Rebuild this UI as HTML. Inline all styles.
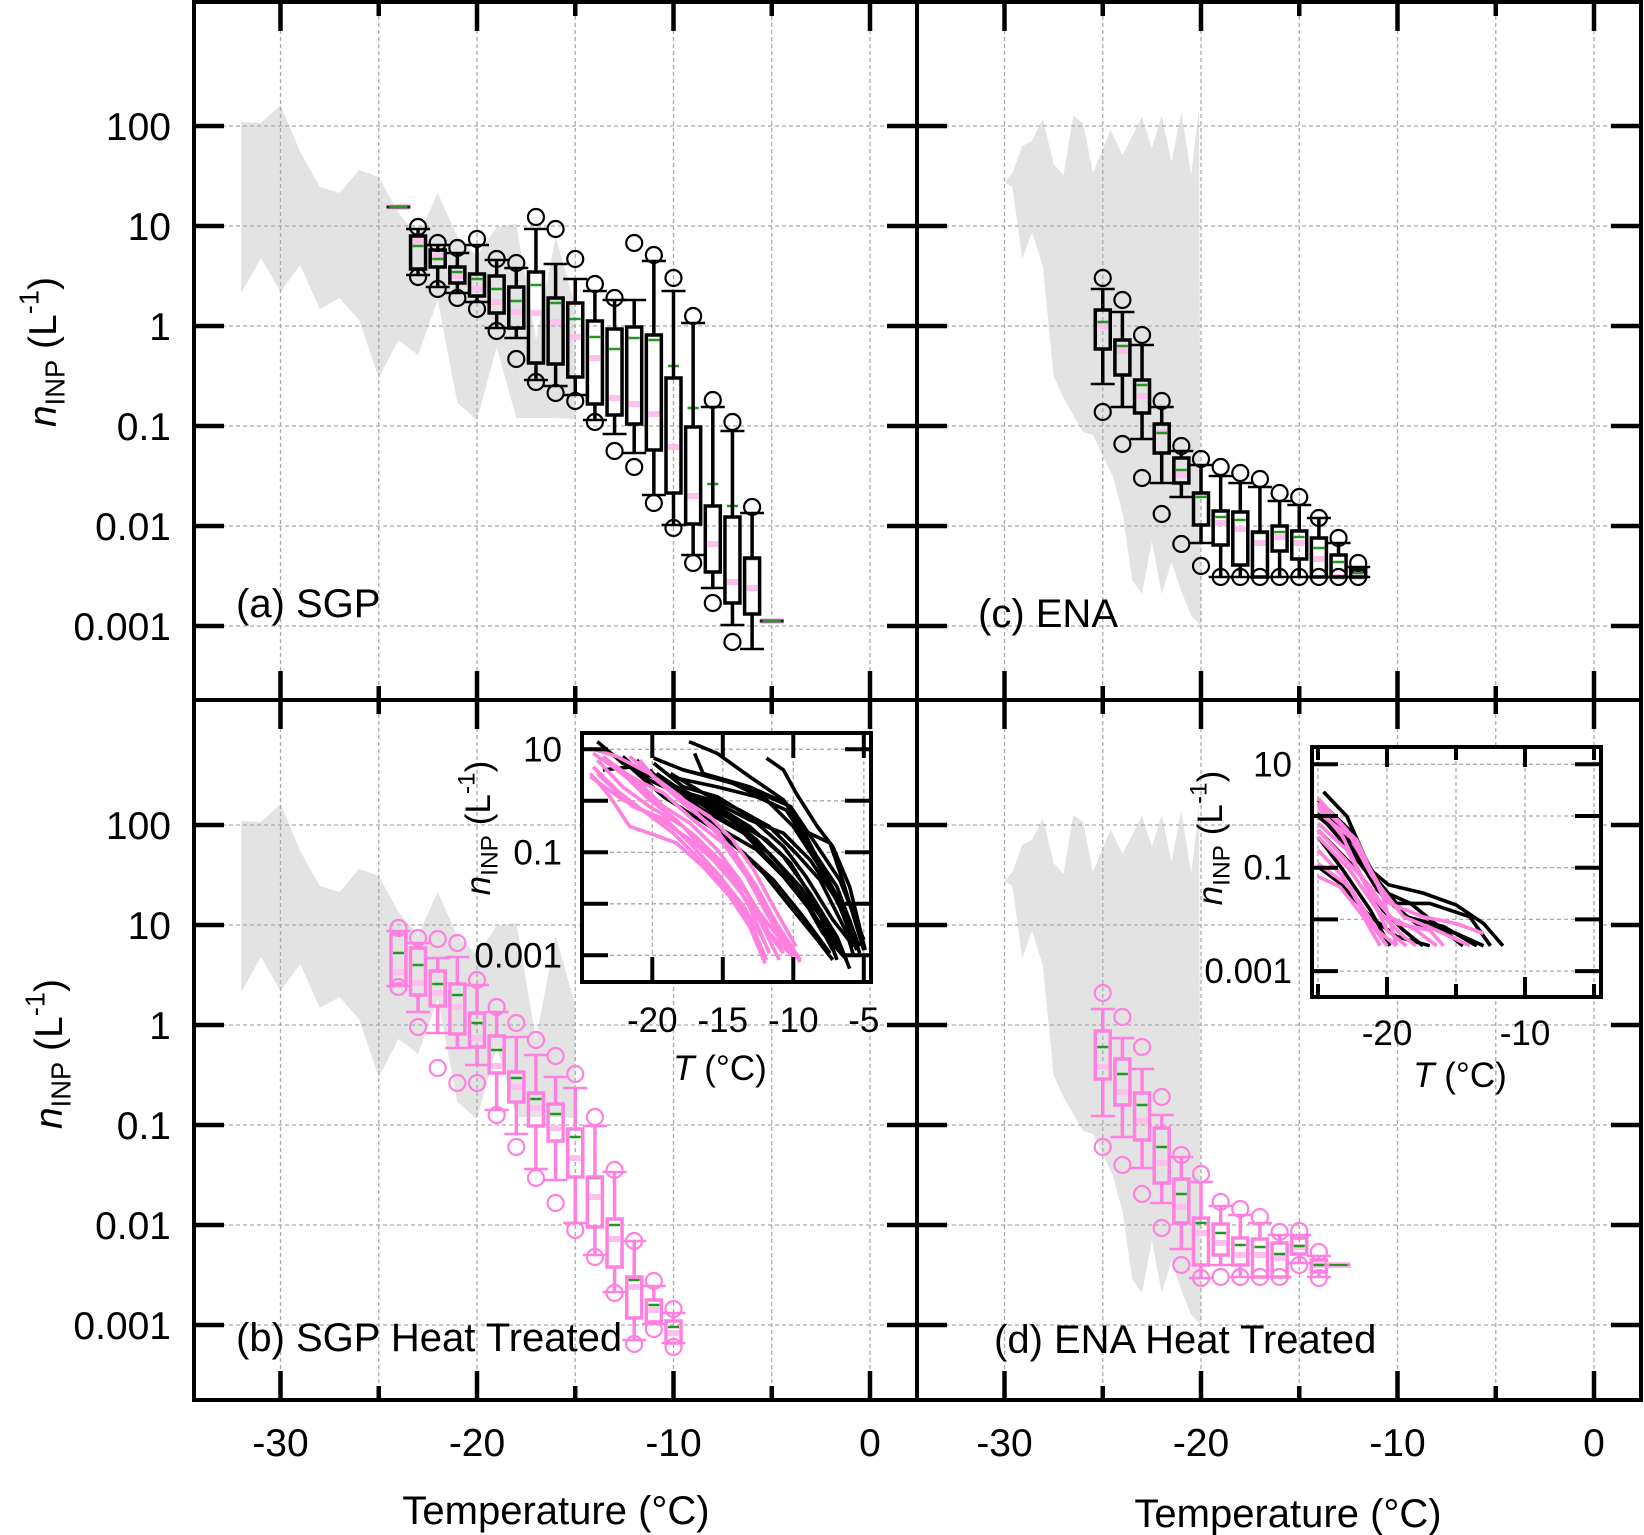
<!DOCTYPE html>
<html><head><meta charset="utf-8"><style>
html,body{margin:0;padding:0;background:#fff}
svg{display:block;font-family:"Liberation Sans",Arial,sans-serif}
</style></head><body>
<svg id="fig" width="1644" height="1535" viewBox="0 0 1644 1535" xmlns="http://www.w3.org/2000/svg">
<g id="layer-grey"></g>
<g id="layer-grid"></g>
<g id="layer-boxes"></g>
<g id="layer-insets"></g>
<g id="layer-frame"></g>
<g id="layer-text"></g>
</svg>
<script>
// ---------------- data (log10 of n_INP, L^-1) ----------------
const greySgpT  = [-32,-31,-30,-29,-28,-27,-26,-25,-24,-23,-22,-21,-20,-19,-18,-17,-16,-15];
const greySgpUp = [2.04,2.03,2.21,1.74,1.39,1.33,1.56,1.49,1.13,0.9,1.33,0.89,0.7,0.99,1.02,-0.14,0.89,0.2];
const greySgpLo = [0.33,0.68,0.34,0.61,0.17,0.28,0.06,-0.52,-0.14,-0.29,0.26,-0.77,-0.94,-0.21,-0.92,-0.92,-0.92,-0.93];
const greyEnaUpT = [-30,-29.6,-29.1,-28.6,-28.05,-27.5,-27,-26.5,-26,-25.5,-24.6,-24,-23,-22.5,-22,-21.5,-21,-20.5,-20.1,-20];
const greyEnaUp  = [1.44,1.53,1.80,1.85,2.07,1.62,1.51,2.10,2.03,1.53,1.96,1.71,2.09,1.78,2.10,1.64,2.14,1.51,2.17,-3.0];
const greyEnaLoT = [-30,-29.6,-29.1,-28.6,-28.05,-27.5,-27,-26,-25.5,-24.5,-24,-23.5,-23,-22.5,-22,-21.5,-21,-20.5,-20];
const greyEnaLo  = [1.44,1.39,0.67,0.94,0.60,-0.50,-0.72,-1.06,-1.09,-1.50,-1.86,-2.54,-2.68,-2.15,-2.68,-2.36,-2.65,-2.90,-3.0];

// panel a: SGP
const aT    = [-23,-22,-21,-20,-19,-18,-17,-16,-15,-14,-13,-12,-11,-10,-9,-8,-7,-6];
const aWHi  = [0.97,0.81,0.73,0.81,0.66,0.58,0.97,0.62,0.47,0.35,0.26,0.26,0.65,0.35,0.03,-0.81,-1.05,-1.87];
const aBHi  = [0.90,0.76,0.59,0.52,0.50,0.39,0.54,0.28,0.23,0.05,-0.03,-0.01,-0.09,-0.52,-1.01,-1.80,-1.91,-2.32];
const aMed  = [0.80,0.67,0.54,0.47,0.37,0.25,0.41,0.23,0.07,-0.11,-0.23,-0.12,-0.14,-0.40,-0.82,-1.58,-1.80,-2.33];
const aMean = [0.85,0.70,0.50,0.37,0.24,0.14,0.13,0.04,-0.11,-0.32,-0.72,-0.78,-0.88,-1.21,-1.70,-2.18,-2.56,-2.62];
const aBLo  = [0.57,0.59,0.43,0.30,0.13,-0.02,-0.37,-0.38,-0.51,-0.78,-0.89,-0.98,-1.24,-1.67,-1.98,-2.46,-2.77,-2.88];
const aWLo  = [0.51,0.39,0.33,0.24,-0.02,-0.12,-0.54,-0.60,-0.69,-0.94,-1.08,-1.27,-1.69,-1.99,-2.29,-2.62,-2.99,-3.23];
const aOHi  = [0.99,0.83,0.78,0.87,0.67,0.63,1.09,0.97,0.67,0.42,0.28,0.83,0.71,0.48,0.10,-0.74,-0.96,-1.81];
const aOLo  = [0.49,0.37,0.28,0.17,-0.05,-0.33,-0.56,-0.67,-0.75,-0.96,-1.25,-1.41,-1.77,-2.02,-2.37,-2.77,-3.16,null];
const aSingleT = [-24,-5];
const aSingleV = [1.19,-2.95];

// panel c: ENA
const cT    = [-25,-24,-23,-22,-21,-20,-19,-18,-17,-16,-15,-14,-13,-12];
const cWHi  = [0.37,0.14,-0.19,-0.81,-1.25,-1.39,-1.50,-1.57,-1.61,-1.75,-1.79,-1.92,-2.17,-2.41];
const cBHi  = [0.16,-0.14,-0.54,-0.98,-1.32,-1.67,-1.85,-1.86,-2.06,-2.00,-2.05,-2.12,-2.29,-2.42];
const cMed  = [0.04,-0.20,-0.59,-1.07,-1.44,-1.71,-1.91,-1.94,-2.07,-2.06,-2.11,-2.22,-2.36,-2.47];
const cMean = [0.00,-0.25,-0.70,-1.06,-1.49,-1.68,-1.97,-2.03,-2.17,-2.11,-2.17,-2.33,-2.51,-2.51];
const cBLo  = [-0.23,-0.49,-0.87,-1.27,-1.57,-1.99,-2.19,-2.39,-2.51,-2.25,-2.33,-2.51,-2.51,-2.51];
const cWLo  = [-0.58,-0.81,-1.13,-1.57,-1.71,-2.17,-2.51,-2.51,-2.51,-2.51,-2.51,-2.51,-2.51,-2.51];
const cOHi  = [0.48,0.26,-0.09,-0.75,-1.20,-1.33,-1.41,-1.47,-1.53,-1.67,-1.71,-1.92,-2.12,-2.37];
const cOLo  = [-0.86,-1.18,-1.52,-1.88,-2.18,-2.40,-2.51,-2.51,-2.51,-2.51,-2.51,-2.51,-2.51,-2.51];

// panel b: SGP heat treated
const bT    = [-24,-23,-22,-21,-20,-19,-18,-17,-16,-15,-14,-13,-12,-11,-10];
const bWHi  = [0.94,0.82,0.67,0.68,0.40,0.13,-0.12,-0.30,-0.52,-0.63,-1.01,-1.47,-2.16,-2.61,-2.88];
const bBHi  = [0.91,0.77,0.54,0.41,0.12,-0.11,-0.47,-0.68,-0.79,-1.04,-1.52,-1.94,-2.52,-2.75,-2.96];
const bMed  = [0.72,0.60,0.41,0.30,0.02,-0.25,-0.53,-0.74,-0.89,-1.12,-1.53,-2.00,-2.55,-2.80,-3.02];
const bMean = [0.53,0.42,0.32,0.18,-0.13,-0.41,-0.62,-0.83,-1.03,-1.33,-1.72,-2.14,-2.62,-2.85,-3.08];
const bBLo  = [0.41,0.30,0.19,-0.09,-0.22,-0.48,-0.77,-1.01,-1.16,-1.52,-2.02,-2.42,-2.93,-2.97,-3.18];
const bWLo  = [0.39,0.13,-0.08,-0.23,-0.40,-0.85,-1.09,-1.44,-1.55,-1.98,-2.30,-2.67,-3.15,-2.99,-3.18];
const bOHi  = [0.97,0.87,0.86,0.82,0.45,0.18,0.02,-0.15,-0.31,-0.49,-0.92,-1.45,-2.16,-2.56,-2.84];
const bOLo  = [0.38,-0.02,-0.43,-0.58,-0.58,-0.90,-1.22,-1.53,-1.78,-2.05,-2.32,-2.68,-3.19,-3.04,-3.22];

// panel d: ENA heat treated
const dT    = [-25,-24,-23,-22,-21,-20,-19,-18,-17,-16,-15,-14];
const dWHi  = [0.16,-0.13,-0.44,-0.90,-1.32,-1.57,-1.81,-1.90,-1.98,-2.10,-2.10,-2.31];
const dBHi  = [-0.06,-0.34,-0.68,-1.03,-1.54,-1.93,-1.99,-2.13,-2.14,-2.18,-2.13,-2.35];
const dMed  = [-0.22,-0.49,-0.80,-1.22,-1.69,-1.98,-2.08,-2.20,-2.22,-2.29,-2.21,-2.40];
const dMean = [-0.42,-0.67,-0.96,-1.38,-1.82,-2.08,-2.18,-2.30,-2.30,-2.33,-2.22,-2.40];
const dBLo  = [-0.54,-0.80,-1.15,-1.58,-1.98,-2.40,-2.30,-2.40,-2.52,-2.52,-2.29,-2.47];
const dWLo  = [-0.91,-1.12,-1.43,-1.78,-2.24,-2.53,-2.40,-2.52,-2.52,-2.52,-2.38,-2.52];
const dOHi  = [0.32,0.08,-0.22,-0.72,-1.30,-1.49,-1.77,-1.84,-1.92,-2.07,-2.06,-2.27];
const dOLo  = [-1.22,-1.40,-1.69,-2.03,-2.40,-2.53,-2.52,-2.52,-2.52,-2.52,-2.40,-2.53];
const dSingleT = [-13];
const dSingleV = [-2.40];

// inset (b): individual spectra, SGP untreated (black) and heat treated (pink)
const insBBlackT = [
 [-17.4,-15.4,-13.1,-10.7,-9.3,-7.4,-6.5,-5.0],[-11.9,-10.7,-9.8,-8.3,-7.2,-6.0,-4.9],
 [-17.0,-16.4,-13.1,-10.5,-9.3,-7.9,-6.0,-5.3],[-19.9,-17.8,-14.3,-11.9,-10.0,-8.3,-6.7,-5.5],
 [-23.9,-22.1,-19.0,-15.4,-13.1,-10.7,-8.8,-6.9,-6.0],[-23.5,-21.4,-17.8,-15.0,-12.6,-10.7,-8.8,-7.2],
 [-22.1,-20.2,-16.6,-13.8,-11.7,-9.5,-7.6,-6.5],[-19.9,-17.8,-15.4,-13.1,-10.7,-9.1,-7.2,-5.7],
 [-19.7,-17.3,-14.3,-11.9,-10.2,-8.3,-6.9],[-19.5,-16.4,-13.5,-11.7,-9.5,-7.9,-6.2],
 [-19.0,-15.9,-13.1,-10.7,-8.8,-6.9,-5.3],[-18.3,-15.4,-12.6,-10.5,-8.8,-6.9,-5.5],
 [-17.8,-14.9,-12.4,-10.2,-8.6,-6.7,-5.0],[-21.1,-19.0,-16.4,-14.0,-12.1,-10.2,-8.3,-7.2],
 [-21.6,-19.2,-15.9,-13.5,-11.4,-9.3,-7.4],[-20.2,-17.8,-15.0,-12.6,-10.7,-8.8,-6.7],
 [-18.7,-16.4,-13.8,-11.7,-9.8,-8.1,-6.2,-5.7]];
const insBBlackV = [
 [1.15,0.92,0.47,0.02,-0.57,-0.82,-1.54,-2.90],[0.83,0.60,0.15,-0.50,-0.89,-1.67,-2.90],
 [0.92,0.53,0.27,-0.05,-0.57,-1.34,-2.31,-2.96],[0.83,0.60,0.34,0.02,-0.50,-1.21,-2.06,-2.90],
 [1.15,0.73,0.34,-0.11,-0.50,-1.08,-1.80,-2.64,-3.26],[0.60,0.66,0.21,-0.24,-0.76,-1.34,-2.06,-2.90],
 [0.86,0.40,-0.05,-0.57,-1.02,-1.67,-2.44,-2.96],[0.73,0.27,0.08,-0.31,-0.89,-1.47,-2.31,-2.83],
 [0.53,0.08,-0.37,-0.76,-1.21,-2.06,-3.09],[0.40,-0.18,-0.63,-1.15,-1.80,-2.57,-3.09],
 [0.27,0.02,-0.37,-0.63,-1.15,-1.93,-2.83],[0.44,0.27,0.08,-0.18,-0.89,-1.67,-2.70],
 [0.60,0.40,0.15,-0.11,-0.76,-1.54,-2.70],[0.79,0.27,-0.37,-0.89,-1.41,-2.06,-2.70,-3.09],
 [0.66,0.08,-0.50,-1.02,-1.54,-2.25,-2.96],[0.60,-0.05,-0.57,-0.95,-1.47,-2.12,-2.90],
 [0.53,0.15,-0.18,-0.50,-1.02,-1.54,-2.57,-3.03]];
const insBPinkT = [
 [-24.4,-22.5,-20.2,-17.8,-15.4,-14.0,-12.6,-11.2,-9.5],[-24.4,-23.0,-21.6,-20.2,-18.3,-16.4,-14.5,-13.1,-12.0],
 [-24.4,-22.1,-19.7,-17.3,-15.4,-13.5,-12.1,-10.7],[-23.5,-21.6,-19.2,-17.1,-15.0,-13.3,-11.9,-10.2],
 [-20.9,-19.7,-17.8,-15.9,-14.3,-12.8,-11.4,-9.8],[-24.2,-22.1,-20.2,-18.3,-16.4,-14.5,-13.1,-11.7],
 [-23.9,-22.1,-20.2,-17.8,-15.9,-14.0,-12.4,-11.0],[-23.0,-21.1,-19.2,-17.3,-15.4,-13.8,-12.4,-10.5],
 [-22.5,-20.6,-18.7,-16.9,-15.0,-13.3,-11.7,-10.0],[-24.2,-22.3,-20.4,-18.5,-16.6,-14.7,-13.1,-11.9],
 [-21.6,-19.9,-18.0,-15.9,-14.3,-12.6,-11.2,-9.5],[-23.9,-21.4,-19.0,-17.1,-15.2,-13.5,-12.1]];
const insBPinkV = [
 [1.02,0.86,0.53,-0.05,-0.57,-1.15,-1.80,-2.44,-3.13],[0.53,0.08,-0.50,-0.63,-0.82,-1.28,-1.86,-2.44,-3.16],
 [0.47,0.02,-0.31,-0.76,-1.21,-1.86,-2.44,-2.96],[0.86,0.47,0.15,-0.37,-0.82,-1.47,-2.18,-2.96],
 [0.79,0.40,0.02,-0.31,-0.76,-1.34,-2.06,-2.83],[0.92,0.53,0.02,-0.37,-0.89,-1.41,-2.06,-2.96],
 [0.79,0.27,-0.11,-0.50,-1.08,-1.67,-2.31,-3.09],[0.73,0.40,-0.11,-0.44,-0.95,-1.54,-2.18,-2.83],
 [0.60,0.21,-0.31,-0.70,-1.21,-1.80,-2.57,-3.03],[0.66,0.15,-0.24,-0.63,-1.15,-1.73,-2.31,-3.09],
 [0.86,0.47,0.08,-0.50,-0.95,-1.67,-2.38,-3.09],[0.53,-0.11,-0.37,-0.89,-1.47,-2.06,-2.70]];

// inset (d): ENA spectra
const insDBlackT = [
 [-24.6,-22.9,-21.2,-19.9,-17.4,-15.0,-13.0,-11.6],[-25,-22.7,-20.7,-19.3,-16.9,-14.0,-12.5],
 [-25,-22.9,-20.7,-18.6,-15.9,-13.5],[-25,-23.4,-21.2,-19.3,-16.9],[-25,-22.2,-20.3,-18.8,-17.4],
 [-24.9,-22.4,-20.3,-17.9,-15.0,-13.0],[-25,-23.2,-21.2,-19.8],[-25,-22.7,-20.5,-18.3,-15.9,-14.5]];
const insDBlackV = [
 [0.47,-0.01,-1.04,-1.33,-1.49,-1.72,-2.08,-2.51],[0.31,-0.27,-1.24,-1.69,-1.69,-1.95,-2.51],
 [-0.01,-0.46,-1.43,-1.95,-2.14,-2.51],[-0.98,-1.30,-1.95,-2.33,-2.51],[-0.27,-1.04,-1.82,-2.21,-2.51],
 [0.18,-0.53,-1.56,-2.08,-2.27,-2.51],[-0.40,-1.04,-1.82,-2.51],[0.05,-0.66,-1.43,-1.69,-2.21,-2.51]];
const insDPinkT = [
 [-25,-22.9,-21.2,-19.8,-17.4,-15.0,-13.0],[-25,-23.2,-21.5,-20.0,-18.6],[-25,-23.4,-21.7,-20.5],
 [-25,-22.9,-21.0,-19.3,-16.9,-15.9],[-25,-22.7,-20.7,-18.8,-17.9],[-24.9,-22.4,-20.5,-18.8,-16.4,-14.0],
 [-25,-23.2,-21.5,-20.0],[-25,-23.2,-21.2,-19.8,-17.9,-16.4],[-25,-22.2,-20.3,-19.3],[-25,-22.7,-20.7,-19.3]];
const insDPinkV = [
 [0.34,-0.27,-1.11,-1.69,-1.95,-2.08,-2.27],[0.18,-0.40,-1.37,-2.21,-2.51],[-1.17,-1.37,-1.95,-2.51],
 [-0.14,-0.66,-1.56,-2.08,-2.21,-2.51],[-0.40,-1.04,-1.82,-2.33,-2.51],[0.05,-0.46,-1.37,-1.95,-2.21,-2.51],
 [-0.66,-1.17,-1.95,-2.51],[-0.27,-0.79,-1.37,-1.95,-2.21,-2.51],[0.24,-0.46,-1.56,-2.51],[-0.92,-1.37,-2.21,-2.51]];

const mainXTicks = [-30,-25,-20,-15,-10,-5,0];
const mainXLabels = ["-30","-20","-10","0"];
const mainXLabelVals = [-30,-20,-10,0];
const mainYVals = [2,1,0,-1,-2,-3];
const mainYLabels = ["100","10","1","0.1","0.01","0.001"];
const insBXVals = [-20,-15,-10,-5];
const insBXLabels = ["-20","-15","-10","-5"];
const insDXVals = [-25,-20,-15,-10,-5];
const insDXLabelVals = [-20,-10];
const insDXLabels = ["-20","-10"];
const insYVals = [1,0,-1,-2,-3];
const insYLabelVals = [1,-1,-3];
const insYLabels = ["10","0.1","0.001"];

// ---------------- axes ----------------
const NS = "http://www.w3.org/2000/svg";
const xL = T => 870 + 19.65*T;
const xR = T => 1594 + 19.65*T;
const yTop = v => 326 - 100*v;
const yBot = v => 1025 - 100*v;
const insBX = T => 793.3 + 14.1*(T+10);
const insBY = v => 800.8 - 51.5*v;
const insDX = T => 1525 + 13.8*(T+10);
const insDY = v => 816 - 51.7*v;

function mk(tag, attrs, parent){
  const e = document.createElementNS(NS, tag);
  for (const k in attrs) e.setAttribute(k, attrs[k]);
  parent.appendChild(e);
  return e;
}
const Lg = document.getElementById('layer-grey');
const Lgr = document.getElementById('layer-grid');
const Lb = document.getElementById('layer-boxes');
const Li = document.getElementById('layer-insets');
const Lf = document.getElementById('layer-frame');
const Lt = document.getElementById('layer-text');

const panels = [
  {name:'a', fx:xL, fy:yTop, x0:194, x1:917, y0:2, y1:700},
  {name:'c', fx:xR, fy:yTop, x0:917, x1:1641, y0:2, y1:700},
  {name:'b', fx:xL, fy:yBot, x0:194, x1:917, y0:700, y1:1400},
  {name:'d', fx:xR, fy:yBot, x0:917, x1:1641, y0:700, y1:1400}
];

function greyPoly(fx, fy, tu, vu, tl, vl, nm){
  let pts = [];
  for (let i=0;i<tu.length;i++) pts.push(fx(tu[i]).toFixed(1)+','+fy(vu[i]).toFixed(1));
  for (let i=tl.length-1;i>=0;i--) pts.push(fx(tl[i]).toFixed(1)+','+fy(vl[i]).toFixed(1));
  const p = mk('polygon', {points:pts.join(' '), fill:'#e3e3e3', stroke:'none'}, Lg);
  
  
}
greyPoly(xL, yTop, greySgpT, greySgpUp, greySgpT, greySgpLo, 'sgp-literature-range-a');
greyPoly(xL, yBot, greySgpT, greySgpUp, greySgpT, greySgpLo, 'sgp-literature-range-b');
greyPoly(xR, yTop, greyEnaUpT, greyEnaUp, greyEnaLoT, greyEnaLo, 'ena-literature-range-c');
greyPoly(xR, yBot, greyEnaUpT, greyEnaUp, greyEnaLoT, greyEnaLo, 'ena-literature-range-d');

panels.forEach(P=>{
  mainXTicks.forEach(t=>{
    const gl = mk('line',{x1:P.fx(t),x2:P.fx(t),y1:P.y0,y2:P.y1,stroke:'#aaa','stroke-width':1.3,'stroke-dasharray':'4 3'},Lgr);
    
    
  });
  mainYVals.forEach(v=>{
    const gl = mk('line',{x1:P.x0,x2:P.x1,y1:P.fy(v),y2:P.fy(v),stroke:'#aaa','stroke-width':1.3,'stroke-dasharray':'4 3'},Lgr);
    
    
  });
});

function drawBoxes(fx, fy, T, wHi, bHi, med, mean, bLo, wLo, oHi, oLo, col, nm){
  for (let i=0;i<T.length;i++){
    const g = mk('g',{},Lb);
    
    
    const cx = fx(T[i]), hw = 7.5, cw = 12;
    mk('line',{x1:cx-hw+2,x2:cx+hw-2,y1:fy(mean[i]),y2:fy(mean[i]),stroke:'#ffc0ee','stroke-width':6},g);
    mk('line',{x1:cx-hw+2,x2:cx+hw-2,y1:fy(med[i]),y2:fy(med[i]),stroke:'#1f9a1f','stroke-width':2.5},g);
    mk('line',{x1:cx,x2:cx,y1:fy(bHi[i]),y2:fy(wHi[i]),stroke:col,'stroke-width':3.5},g);
    mk('line',{x1:cx,x2:cx,y1:fy(bLo[i]),y2:fy(wLo[i]),stroke:col,'stroke-width':3.5},g);
    mk('line',{x1:cx-cw,x2:cx+cw,y1:fy(wHi[i]),y2:fy(wHi[i]),stroke:col,'stroke-width':2.5},g);
    mk('line',{x1:cx-cw,x2:cx+cw,y1:fy(wLo[i]),y2:fy(wLo[i]),stroke:col,'stroke-width':2.5},g);
    const top = Math.min(fy(bHi[i]), fy(bLo[i])), h = Math.abs(fy(bLo[i])-fy(bHi[i]));
    mk('rect',{x:cx-hw,y:top,width:2*hw,height:Math.max(h,1),fill:'none',stroke:col,'stroke-width':3.5},g);
    if (oHi[i]!==null) mk('circle',{cx:cx,cy:fy(oHi[i]),r:8,fill:'none',stroke:col,'stroke-width':2.2},g);
    if (oLo[i]!==null) mk('circle',{cx:cx,cy:fy(oLo[i]),r:8,fill:'none',stroke:col,'stroke-width':2.2},g);
  }
}
function drawSingles(fx, fy, T, V, col, nm){
  for (let i=0;i<T.length;i++){
    const g = mk('g',{},Lb);
    
    
    const cx = fx(T[i]), y = fy(V[i]);
    mk('line',{x1:cx-12,x2:cx+12,y1:y,y2:y,stroke:'#ffc0ee','stroke-width':6},g);
    mk('line',{x1:cx-12,x2:cx+12,y1:y,y2:y,stroke:col,'stroke-width':3},g);
    mk('line',{x1:cx-9,x2:cx+9,y1:y,y2:y,stroke:'#1f9a1f','stroke-width':2},g);
  }
}
const PINK = '#ff80df';
drawBoxes(xL,yTop,aT,aWHi,aBHi,aMed,aMean,aBLo,aWLo,aOHi,aOLo,'#000','sgp');
drawSingles(xL,yTop,aSingleT,aSingleV,'#222','sgp');
drawBoxes(xR,yTop,cT,cWHi,cBHi,cMed,cMean,cBLo,cWLo,cOHi,cOLo,'#000','ena');
drawBoxes(xL,yBot,bT,bWHi,bBHi,bMed,bMean,bBLo,bWLo,bOHi,bOLo,PINK,'sgp-heat');
drawBoxes(xR,yBot,dT,dWHi,dBHi,dMed,dMean,dBLo,dWLo,dOHi,dOLo,PINK,'ena-heat');
drawSingles(xR,yBot,dSingleT,dSingleV,PINK,'ena-heat');

function txt(x,y,s,opts,nm){
  const t = mk('text',Object.assign({x:x,y:y,'font-size':39,fill:'#000'},opts||{}),Lt);
  t.textContent = s;
  
  
  return t;
}
function ytitle(x,y,fs,nm){
  const t = mk('text',{x:x,y:y,'font-size':fs,'text-anchor':'middle',transform:'rotate(-90 '+x+' '+y+')'},Lt);
  
  
  const a = mk('tspan',{'font-style':'italic'},t); a.textContent='n';
  const b = mk('tspan',{'font-size':fs*0.7,dy:fs*0.22},t); b.textContent='INP';
  const c = mk('tspan',{dy:-fs*0.22},t); c.textContent=' (L';
  const d = mk('tspan',{'font-size':fs*0.7,dy:-fs*0.45},t); d.textContent='-1';
  const e = mk('tspan',{dy:fs*0.45},t); e.textContent=')';
}

function drawInset(box, fx, fy, xTickVals, xLabVals, xLabs, blackT, blackV, pinkT, pinkV, nm, tickLens){
  const g = mk('g',{},Li);
  
  
  mk('rect',{x:box.x0,y:box.y0,width:box.x1-box.x0,height:box.y1-box.y0,fill:'#fff'},g);
  insYVals.forEach(v=>{
    mk('line',{x1:box.x0,x2:box.x1,y1:fy(v),y2:fy(v),stroke:'#aaa','stroke-width':1.3,'stroke-dasharray':'4 3'},g);
  });
  xTickVals.forEach(t=>{
    mk('line',{x1:fx(t),x2:fx(t),y1:box.y0,y2:box.y1,stroke:'#aaa','stroke-width':1.3,'stroke-dasharray':'4 3'},g);
  });
  const lineFn = (T,V,col,k)=>{
    let d='';
    for (let j=0;j<T.length;j++) d += (j?'L':'M')+fx(T[j]).toFixed(1)+','+fy(V[j]).toFixed(1);
    const p = mk('path',{d:d,fill:'none',stroke:col,'stroke-width':3.6,'stroke-linejoin':'round'},g);
    
    
  };
  blackT.forEach((T,k)=>lineFn(T,blackV[k],'#000','untreated-'+k));
  pinkT.forEach((T,k)=>lineFn(T,pinkV[k],PINK,'heat-'+k));
  insYVals.forEach(v=>{
    mk('line',{x1:box.x0,x2:box.x0+26,y1:fy(v),y2:fy(v),stroke:'#000','stroke-width':4},g);
    mk('line',{x1:box.x1-26,x2:box.x1,y1:fy(v),y2:fy(v),stroke:'#000','stroke-width':4},g);
  });
  xTickVals.forEach((t,i)=>{
    const L = tickLens[i];
    mk('line',{x1:fx(t),x2:fx(t),y1:box.y1,y2:box.y1-L,stroke:'#000','stroke-width':4},g);
    mk('line',{x1:fx(t),x2:fx(t),y1:box.y0,y2:box.y0+L,stroke:'#000','stroke-width':4},g);
  });
  mk('rect',{x:box.x0,y:box.y0,width:box.x1-box.x0,height:box.y1-box.y0,fill:'none',stroke:'#000','stroke-width':4},g);
  insYLabelVals.forEach((v,i)=>{
    txt(box.labX, fy(v)+12, insYLabels[i], {'font-size':35,'text-anchor':'end'}, nm+'-y-tick-label');
  });
  xLabVals.forEach((t,i)=>{
    txt(fx(t), box.xLabY, xLabs[i], {'font-size':35,'text-anchor':'middle'}, nm+'-x-tick-label');
  });
  const tt = txt(box.tX, box.tY, '', {'font-size':35,'text-anchor':'middle'}, nm+'-x-axis-title');
  const i1 = mk('tspan',{'font-style':'italic'},tt); i1.textContent='T';
  const i2 = mk('tspan',{},tt); i2.textContent=' (°C)';
  ytitle(box.yTX, box.yTY, 35, nm+'-y-axis-title');
}
drawInset({x0:582,x1:871,y0:733,y1:982,labX:562,xLabY:1032,tX:720,tY:1080,yTX:490,yTY:828}, insBX, insBY,
  insBXVals, insBXVals, insBXLabels, insBBlackT, insBBlackV, insBPinkT, insBPinkV, 'inset-sgp', [25,25,25,25]);
drawInset({x0:1312,x1:1601,y0:747,y1:997,labX:1292,xLabY:1045,tX:1460,tY:1087,yTX:1222,yTY:838}, insDX, insDY,
  insDXVals, insDXLabelVals, insDXLabels, insDBlackT, insDBlackV, insDPinkT, insDPinkV, 'inset-ena', [13,20,13,20,13]);

panels.forEach(P=>{
  const g = mk('g',{},Lf);
  
  
  mainXTicks.forEach(t=>{
    const L = (t%10===0)?29:14;
    mk('line',{x1:P.fx(t),x2:P.fx(t),y1:P.y1,y2:P.y1-L,stroke:'#000','stroke-width':4.5},g);
    mk('line',{x1:P.fx(t),x2:P.fx(t),y1:P.y0,y2:P.y0+L,stroke:'#000','stroke-width':4.5},g);
  });
  mainYVals.forEach(v=>{
    mk('line',{x1:P.x0,x2:P.x0+30,y1:P.fy(v),y2:P.fy(v),stroke:'#000','stroke-width':4.5},g);
    mk('line',{x1:P.x1-30,x2:P.x1,y1:P.fy(v),y2:P.fy(v),stroke:'#000','stroke-width':4.5},g);
  });
  mk('rect',{x:P.x0,y:P.y0,width:P.x1-P.x0,height:P.y1-P.y0,fill:'none',stroke:'#000','stroke-width':4},g);
});

[yTop, yBot].forEach((fy,k)=>{
  mainYVals.forEach((v,i)=>{
    txt(171, fy(v)+14, mainYLabels[i], {'text-anchor':'end'}, (k?'bottom':'top')+'-y-tick-label');
  });
});
[xL, xR].forEach((fx,k)=>{
  mainXLabelVals.forEach((t,i)=>{
    txt(fx(t), 1456, mainXLabels[i], {'text-anchor':'middle'}, (k?'right':'left')+'-x-tick-label');
  });
});
txt(556, 1524, 'Temperature (°C)', {'text-anchor':'middle','font-size':40}, 'left-x-axis-title');
txt(1288, 1527, 'Temperature (°C)', {'text-anchor':'middle','font-size':40}, 'right-x-axis-title');
ytitle(56, 352, 39, 'top-y-axis-title');
ytitle(62, 1054, 39, 'bottom-y-axis-title');
txt(236, 617, '(a) SGP', {'font-size':40}, 'panel-label-a');
txt(978, 627, '(c) ENA', {'font-size':40}, 'panel-label-c');
txt(236, 1351, '(b) SGP Heat Treated', {'font-size':40}, 'panel-label-b');
txt(994, 1353, '(d) ENA Heat Treated', {'font-size':40}, 'panel-label-d');
</script>
</body></html>
